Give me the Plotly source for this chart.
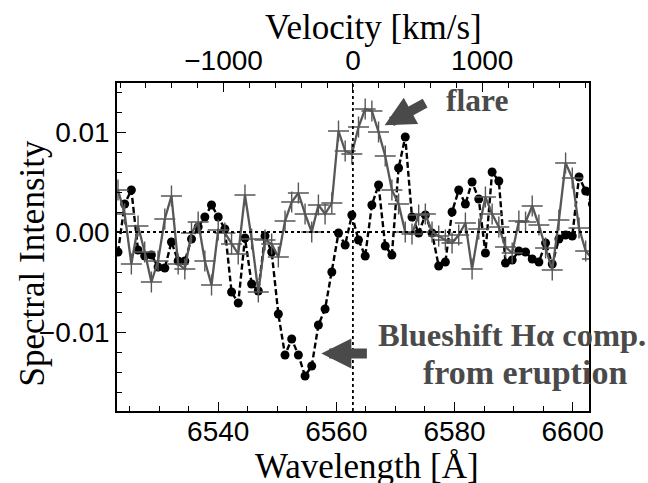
import plotly.graph_objects as go

# ---------------- data ----------------
wavelength = [
    6523.04, 6524.17, 6525.30, 6526.43, 6527.56, 6528.69, 6529.82, 6530.96,
    6532.09, 6533.22, 6534.35, 6535.48, 6536.61, 6537.74, 6538.87, 6540.00,
    6541.13, 6542.26, 6543.39, 6544.53, 6545.66, 6546.79, 6547.92, 6549.05,
    6550.18, 6551.31, 6552.44, 6553.57, 6554.70, 6555.83, 6556.96, 6558.09,
    6559.23, 6560.36, 6561.49, 6562.62, 6563.75, 6564.88, 6566.01, 6567.14,
    6568.27, 6569.40, 6570.53, 6571.66, 6572.80, 6573.93, 6575.06, 6576.19,
    6577.32, 6578.45, 6579.58, 6580.71, 6581.84, 6582.97, 6584.10, 6585.23,
    6586.36, 6587.50, 6588.63, 6589.76, 6590.89, 6592.02, 6593.15, 6594.28,
    6595.41, 6596.54, 6597.67, 6598.80, 6599.93, 6601.07, 6602.20, 6603.33,
]

flare = [
    0.0042, 0.0018, -0.0032, 0.0006, -0.0020, -0.0050, -0.0029, 0.0013,
    0.0036, -0.0032, -0.0037, -0.0001, 0.0010, -0.0029, -0.0053, 0.0002,
    -0.0001, -0.0012, -0.0022, 0.0037, -0.0007, -0.0060, -0.0008, -0.0012,
    -0.0025, 0.0011, 0.0030, 0.0039, 0.0018, 0.0000, 0.0027, 0.0018,
    0.0029, 0.0101, 0.0081, 0.0078, 0.0105, 0.0123, 0.0121, 0.0100,
    0.0076, 0.0042, 0.0028, 0.0000, -0.0002, 0.0017, 0.0018, 0.0000,
    -0.0004, -0.0008, -0.0011, -0.0003, 0.0009, -0.0037, 0.0003, 0.0035,
    0.0018, 0.0005, -0.0015, -0.0021, 0.0011, 0.0010, 0.0026, 0.0007,
    -0.0016, -0.0038, 0.0012, 0.0069, 0.0054, 0.0004, -0.0019, -0.0027,
]

eruption = [
    -0.0020, 0.0028, 0.0042, -0.0018, -0.0024, -0.0023, -0.0035, -0.0036,
    -0.0010, -0.0029, -0.0029, -0.0007, 0.0005, 0.0015, 0.0027, 0.0015,
    0.0003, -0.0060, -0.0071, -0.0006, -0.0052, -0.0059, -0.0004, -0.0020,
    -0.0082, -0.0123, -0.0107, -0.0123, -0.0144, -0.0134, -0.0093, -0.0077,
    -0.0040, -0.0001, -0.0013, 0.0017, -0.0008, -0.0024, 0.0027, 0.0047,
    -0.0014, -0.0023, 0.0064, 0.0095, 0.0015, -0.0001, 0.0017, -0.0001,
    -0.0034, -0.0030, 0.0020, 0.0042, 0.0028, 0.0050, 0.0033, -0.0021,
    0.0060, 0.0051, -0.0031, -0.0028, -0.0019, -0.0020, -0.0027, -0.0030,
    -0.0011, -0.0032, -0.0007, -0.0003, -0.0004, 0.0055, 0.0041, 0.0028,
]

xtick_vals = [6540, 6560, 6580, 6600]
xtick_text = ["6540", "6560", "6580", "6600"]
vtick_vals = [-1000, 0, 1000]
vtick_text = ["\u22121000", "0", "1000"]
ytick_vals = [-0.01, 0.0, 0.01]
ytick_text = ["\u22120.01", "0.00", "0.01"]

HALPHA = 6562.8
C_KMS = 299792.458
XRANGE = [6522.87, 6602.76]
YRANGE = [-0.0179, 0.0149]
VRANGE = [(w - HALPHA) / HALPHA * C_KMS for w in XRANGE]

SERIF = "Liberation Serif, Times New Roman, serif"
SANS = "Liberation Sans, Arial, sans-serif"
ANN_COLOR = "#4a4a4a"
TICKFONT = dict(family=SANS, size=28, color="black")
TITLEFONT = dict(family=SERIF, size=35, color="black")

fig = go.Figure()

fig.add_trace(go.Scatter(
    x=wavelength, y=eruption, mode="lines+markers",
    line=dict(color="black", width=2.4, dash="6px,3px"),
    marker=dict(symbol="circle", size=9, color="black"),
    showlegend=False, name="eruption",
))
fig.add_trace(go.Scatter(
    x=wavelength, y=flare, mode="lines+markers",
    line=dict(color="#575757", width=2.3),
    marker=dict(symbol="cross-thin", size=15,
                line=dict(color="#575757", width=1.4)),
    showlegend=False, name="flare",
))
# invisible trace so the top velocity axis is drawn
fig.add_trace(go.Scatter(
    x=VRANGE, y=[None, None], xaxis="x2", mode="lines",
    showlegend=False, hoverinfo="skip",
))

# reference dotted lines
fig.add_shape(type="line", xref="paper", yref="y", x0=0, x1=1, y0=0, y1=0,
              line=dict(color="black", width=1.8, dash="dot"))
fig.add_shape(type="line", xref="x", yref="paper", x0=HALPHA, x1=HALPHA,
              y0=0, y1=1, line=dict(color="black", width=1.8, dash="dot"))

common_ticks = dict(ticks="inside", ticklen=9, tickwidth=1.3, tickcolor="black",
                    showgrid=False, zeroline=False, showline=True,
                    linecolor="black", linewidth=1.5, automargin=False,
                    tickfont=TICKFONT, tickmode="array")

fig.update_layout(
    width=648, height=483,
    margin=dict(l=117, r=59, t=83, b=72, pad=0, autoexpand=False),
    paper_bgcolor="white", plot_bgcolor="white",
    xaxis=dict(
        range=XRANGE, mirror=False, tickvals=xtick_vals, ticktext=xtick_text,
        ticklabelstandoff=-5,
        minor=dict(dtick=5, tick0=6520, ticks="inside", ticklen=5,
                   tickwidth=1.1, tickcolor="black", showgrid=False),
        **common_ticks,
    ),
    xaxis2=dict(
        range=VRANGE, overlaying="x", side="top", anchor="y",
        tickvals=vtick_vals, ticktext=vtick_text,
        minor=dict(dtick=200, tick0=0, ticks="inside", ticklen=5,
                   tickwidth=1.1, tickcolor="black", showgrid=False),
        **common_ticks,
    ),
    yaxis=dict(
        range=YRANGE, mirror=True, tickvals=ytick_vals, ticktext=ytick_text,
        minor=dict(dtick=0.002, tick0=0, ticks="inside", ticklen=5,
                   tickwidth=1.1, tickcolor="black", showgrid=False),
        **common_ticks,
    ),
)

# axis titles
fig.add_annotation(text="Wavelength [Å]", xref="paper", yref="paper",
                   x=0.53, y=-0.168, xanchor="center", yanchor="middle",
                   showarrow=False, font=TITLEFONT)
fig.add_annotation(text="Velocity [km/s]", xref="paper", yref="paper",
                   x=0.544, y=1.168, xanchor="center", yanchor="middle",
                   showarrow=False, font=TITLEFONT)
fig.add_annotation(text="Spectral Intensity", xref="paper", yref="paper",
                   x=-0.18, y=0.45, xanchor="center", yanchor="middle",
                   textangle=-90, showarrow=False, font=TITLEFONT)

# labels
fig.add_annotation(text="<b>flare</b>", xref="paper", yref="paper",
                   x=0.762, y=0.947, xanchor="center", yanchor="middle",
                   showarrow=False, font=dict(family=SERIF, size=31.5, color=ANN_COLOR))
fig.add_annotation(text="<b>Blueshift Hα comp.</b>", xref="paper", yref="paper",
                   x=0.836, y=0.231, xanchor="center", yanchor="middle",
                   showarrow=False, font=dict(family=SERIF, size=32.5, color=ANN_COLOR))
fig.add_annotation(text="<b>from eruption</b>", xref="paper", yref="paper",
                   x=0.864, y=0.118, xanchor="center", yanchor="middle",
                   showarrow=False, font=dict(family=SERIF, size=34, color=ANN_COLOR))

# arrows
fig.add_annotation(text="", xref="paper", yref="paper", x=0.567, y=0.871,
                   axref="pixel", ayref="pixel", ax=42, ay=-23,
                   showarrow=True, arrowhead=2, arrowwidth=10, arrowsize=0.6,
                   arrowcolor=ANN_COLOR, standoff=0)
fig.add_annotation(text="", xref="paper", yref="paper", x=0.433, y=0.175,
                   axref="pixel", ayref="pixel", ax=47, ay=0,
                   showarrow=True, arrowhead=2, arrowwidth=10, arrowsize=0.6,
                   arrowcolor=ANN_COLOR, standoff=0)

fig.write_html(
    "out.html",
    config={"displayModeBar": False},
    post_script="document.body.style.margin='0';document.body.style.overflow='hidden';",
)
